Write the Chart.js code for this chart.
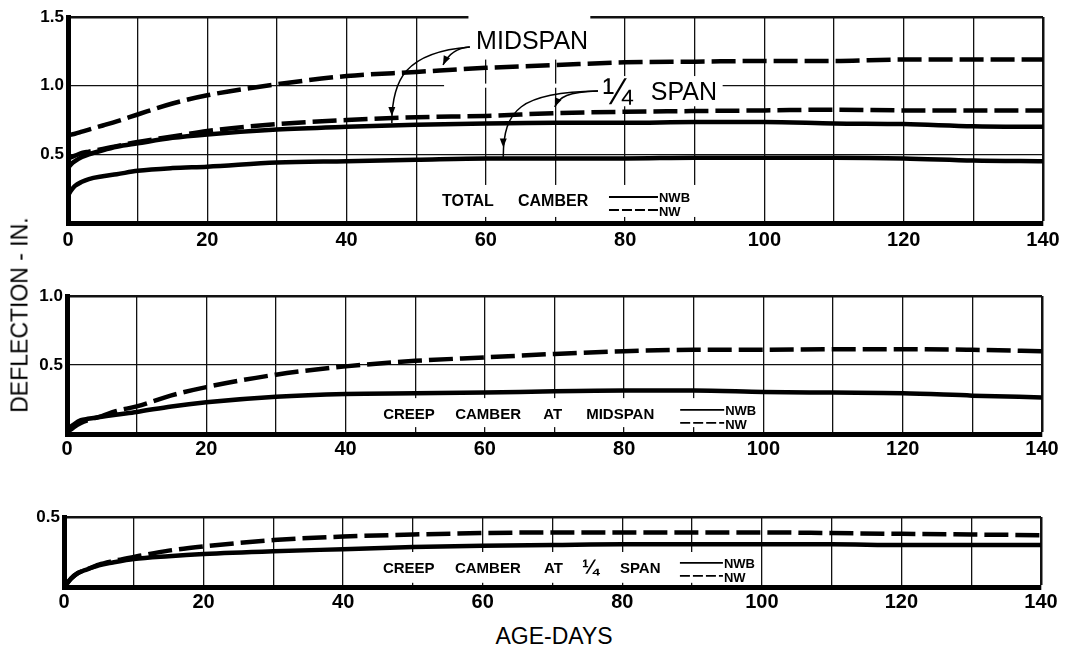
<!DOCTYPE html>
<html>
<head>
<meta charset="utf-8">
<script src="https://cdn.jsdelivr.net/npm/chart.js@4.4.0/dist/chart.umd.min.js"></script>
<style>
  html, body { margin: 0; padding: 0; background: #fff; }
  #wrap { position: relative; width: 1072px; height: 651px; overflow: hidden; background: #fff; }
  canvas { position: absolute; left: 0; }
  .ytitle { position: absolute; left: 20px; top: 315px; transform: translate(-50%, -50%) rotate(-90deg);
            font: 23px "Liberation Sans", Arial, sans-serif; white-space: nowrap; color: #000; }
  .xtitle { position: absolute; left: 554px; top: 636px; transform: translate(-50%, -50%);
            font: 23px "Liberation Sans", Arial, sans-serif; white-space: nowrap; color: #000; }
</style>
</head>
<body>
<div id="wrap">
  <canvas id="total" width="1072" height="262" style="top:0px"></canvas>
  <canvas id="creepMid" width="1072" height="200" style="top:270px"></canvas>
  <canvas id="creepQtr" width="1072" height="130" style="top:490px"></canvas>
  <div class="ytitle">DEFLECTION - IN.</div>
  <div class="xtitle">AGE-DAYS</div>
</div>
<script>
'use strict';

// age in days where the curves were read
var days = [0, 0.5, 1, 2, 3, 5, 7, 10, 15, 20, 30, 40, 50, 60, 70, 80, 90, 100, 110, 120, 130, 140];

// total camber
var totalMidNW  = [0.64, 0.645, 0.65, 0.665, 0.68, 0.71, 0.74, 0.79, 0.87, 0.93, 1.01, 1.07, 1.10, 1.13, 1.15, 1.17, 1.175, 1.18, 1.18, 1.19, 1.19, 1.19];
var totalMidNWB = [0.40, 0.43, 0.45, 0.48, 0.50, 0.53, 0.555, 0.58, 0.62, 0.645, 0.68, 0.70, 0.715, 0.725, 0.73, 0.73, 0.735, 0.735, 0.725, 0.72, 0.705, 0.70];
var totalQtrNW  = [0.47, 0.48, 0.49, 0.51, 0.52, 0.54, 0.56, 0.59, 0.63, 0.67, 0.72, 0.75, 0.77, 0.78, 0.80, 0.81, 0.815, 0.82, 0.825, 0.82, 0.82, 0.82];
var totalQtrNWB = [0.20, 0.24, 0.27, 0.30, 0.32, 0.34, 0.355, 0.38, 0.40, 0.41, 0.44, 0.45, 0.46, 0.47, 0.47, 0.47, 0.475, 0.475, 0.475, 0.47, 0.455, 0.45];

// creep camber at midspan
var creepMidNW  = [0.01, 0.03, 0.05, 0.08, 0.10, 0.13, 0.165, 0.20, 0.28, 0.34, 0.43, 0.49, 0.53, 0.555, 0.58, 0.60, 0.61, 0.61, 0.615, 0.615, 0.61, 0.60];
var creepMidNWB = [0.01, 0.05, 0.07, 0.10, 0.11, 0.125, 0.14, 0.16, 0.20, 0.23, 0.27, 0.29, 0.295, 0.30, 0.31, 0.315, 0.315, 0.305, 0.30, 0.295, 0.278, 0.265];

// creep camber at 1/4 span
var creepQtrNW  = [0.0, 0.03, 0.06, 0.10, 0.12, 0.16, 0.185, 0.215, 0.26, 0.29, 0.335, 0.36, 0.375, 0.385, 0.39, 0.39, 0.39, 0.39, 0.385, 0.38, 0.375, 0.37];
var creepQtrNWB = [0.0, 0.03, 0.06, 0.10, 0.12, 0.155, 0.175, 0.20, 0.22, 0.235, 0.255, 0.27, 0.285, 0.295, 0.30, 0.305, 0.305, 0.305, 0.305, 0.30, 0.30, 0.30];

var FONT = '"Liberation Sans", Arial, sans-serif';

function pts(arr) {
  return arr.map(function(v, i) { return { x: days[i], y: v }; });
}

function line(arr, dashed) {
  return {
    data: pts(arr),
    borderColor: '#000',
    borderWidth: 4.5,
    borderDash: dashed ? [24, 7] : [],
    borderCapStyle: 'butt',
    pointRadius: 0,
    fill: false,
    cubicInterpolationMode: 'monotone'
  };
}

function arrowHead(ctx, tx, ty, fx, fy) {
  var a = Math.atan2(ty - fy, tx - fx);
  var len = 9, w = 3.5;
  ctx.beginPath();
  ctx.moveTo(tx, ty);
  ctx.lineTo(tx - len * Math.cos(a) + w * Math.sin(a), ty - len * Math.sin(a) - w * Math.cos(a));
  ctx.lineTo(tx - len * Math.cos(a) - w * Math.sin(a), ty - len * Math.sin(a) + w * Math.cos(a));
  ctx.closePath();
  ctx.fill();
}

function decor(cfg) {
  return {
    id: 'decor',
    beforeDatasetsDraw: function(chart) {
      var ctx = chart.ctx, xs = chart.scales.x, ys = chart.scales.y;
      ctx.save();
      ctx.fillStyle = '#fff';
      (cfg.boxes || []).forEach(function(b) {
        var x0 = xs.getPixelForValue(b[0]), x1 = xs.getPixelForValue(b[1]);
        var y0 = ys.getPixelForValue(b[2]), y1 = ys.getPixelForValue(b[3]);
        ctx.fillRect(x0, y0, x1 - x0, y1 - y0);
      });
      ctx.restore();
    },
    afterDatasetsDraw: function(chart) {
      var ctx = chart.ctx, xs = chart.scales.x, ys = chart.scales.y;
      ctx.save();
      ctx.fillStyle = '#000';
      ctx.strokeStyle = '#000';

      // inline legend
      var lg = cfg.legend;
      var lx = xs.getPixelForValue(lg.day), ly = ys.getPixelForValue(lg.val);
      ctx.textBaseline = 'middle';
      ctx.textAlign = 'left';
      lg.words.forEach(function(w) {
        ctx.font = 'bold ' + (w[2] || lg.size) + 'px ' + FONT;
        ctx.fillText(w[0], lx + w[1], ly);
      });
      ctx.lineWidth = 1.8;
      ctx.beginPath();
      ctx.moveTo(lx + lg.line[0], ly + lg.dy[0]);
      ctx.lineTo(lx + lg.line[1], ly + lg.dy[0]);
      ctx.stroke();
      ctx.setLineDash([10, 3]);
      ctx.beginPath();
      ctx.moveTo(lx + lg.line[0], ly + lg.dy[1]);
      ctx.lineTo(lx + lg.line[1], ly + lg.dy[1]);
      ctx.stroke();
      ctx.setLineDash([]);
      ctx.font = 'bold 13px ' + FONT;
      ctx.fillText('NWB', lx + lg.line[1] + 1, ly + lg.dy[0] + 1);
      ctx.fillText('NW', lx + lg.line[1] + 1, ly + lg.dy[1] + 2);

      // curve labels and leaders
      (cfg.labels || []).forEach(function(t) {
        var tx = xs.getPixelForValue(t.day), ty = ys.getPixelForValue(t.val);
        t.parts.forEach(function(p) {
          ctx.font = p[2] + 'px ' + FONT;
          ctx.fillText(p[0], tx + p[1], ty + (p[3] || 0));
        });
      });
      ctx.lineWidth = 1.5;
      (cfg.leaders || []).forEach(function(l) {
        var P = function(q) { return [xs.getPixelForValue(q[0]), ys.getPixelForValue(q[1])]; };
        var p0 = P(l.p0), c1 = P(l.c1), c2 = P(l.c2), p1 = P(l.p1);
        ctx.beginPath();
        ctx.moveTo(p0[0], p0[1]);
        ctx.bezierCurveTo(c1[0], c1[1], c2[0], c2[1], p1[0], p1[1]);
        ctx.stroke();
        if (l.tip) {
          var t = P(l.tip);
          arrowHead(ctx, t[0], t[1], t[0], t[1] - 10);
        } else {
          arrowHead(ctx, p1[0], p1[1], c2[0], c2[1]);
        }
      });
      ctx.restore();
    }
  };
}

function makePanel(id, datasets, o) {
  var tickFont = { family: FONT, size: 20, weight: 'bold' };
  return new Chart(document.getElementById(id).getContext('2d'), {
    type: 'line',
    data: { datasets: datasets },
    options: {
      responsive: false,
      animation: false,
      events: [],
      layout: { autoPadding: false, padding: o.padding },
      plugins: { legend: { display: false }, tooltip: { enabled: false } },
      scales: {
        x: {
          type: 'linear', min: 0, max: 140,
          afterFit: function(s) { s.height = 32; },
          ticks: {
            stepSize: 10, autoSkip: false, maxRotation: 0, padding: o.xPad,
            color: '#000', font: tickFont,
            callback: function(v) { return v % 20 === 0 ? String(v) : ''; }
          },
          grid: {
            color: '#111', drawTicks: false,
            lineWidth: function(c) { return c.tick && c.tick.value === 140 ? 2.5 : 1.3; }
          },
          border: { color: '#000', width: 5 }
        },
        y: {
          type: 'linear', min: 0, max: o.yMax,
          afterFit: function(s) { s.width = o.yWidth; },
          ticks: {
            stepSize: 0.5, padding: 4, color: '#000',
            font: { family: FONT, size: 17, weight: 'bold' },
            callback: function(v) { return v === 0 ? '' : v.toFixed(1); }
          },
          grid: {
            color: '#111', drawTicks: false,
            lineWidth: function(c) { return c.tick && c.tick.value === o.yMax ? 2.5 : 1.3; }
          },
          border: { color: '#000', width: 5 }
        }
      }
    },
    plugins: [decor(o.decor)]
  });
}

makePanel('total', [
  line(totalMidNW, true), line(totalMidNWB, false),
  line(totalQtrNW, true), line(totalQtrNWB, false)
], {
  padding: { top: 17, right: 29, bottom: 7, left: 0 },
  yWidth: 68, yMax: 1.5, xPad: 5,
  decor: {
    boxes: [[52.8, 90.8, 0.277, 0.044], [57.5, 75, 1.56, 1.19], [77.5, 94, 1.07, 0.85], [54, 77.5, 1.015, 0.985]],
    legend: { day: 53.7, val: 0.153, size: 16, words: [['TOTAL', 0], ['CAMBER', 76]], line: [167, 216], dy: [-5, 8] },
    labels: [
      { day: 58.6, val: 1.318, parts: [['MIDSPAN', 0, 25]] },
      { day: 76.8, val: 0.947, parts: [['\u00BC', 0, 36, 1], ['SPAN', 48, 25]] }
    ],
    leaders: [
      { p0: [57.7, 1.282], c1: [55.6, 1.275], c2: [54.5, 1.22], p1: [53.85, 1.151] },
      { p0: [57.7, 1.282], c1: [48.4, 1.245], c2: [46.5, 1.041], p1: [46.5, 0.728], tip: [46.5, 0.78] },
      { p0: [76.1, 0.961], c1: [71.8, 0.954], c2: [70.5, 0.92], p1: [69.9, 0.845] },
      { p0: [76.1, 0.961], c1: [64.9, 0.954], c2: [62.5, 0.823], p1: [62.5, 0.48], tip: [62.5, 0.55] }
    ]
  }
});

makePanel('creepMid', [line(creepMidNW, true), line(creepMidNWB, false)], {
  padding: { top: 26, right: 30, bottom: 4, left: 0 },
  yWidth: 67, yMax: 1.0, xPad: 3,
  decor: {
    boxes: [[45, 94.4, 0.26, 0.05]],
    legend: { day: 45.4, val: 0.138, size: 15,
      words: [['CREEP', 0], ['CAMBER', 72], ['AT', 160], ['MIDSPAN', 203]], line: [297, 341], dy: [-5, 8] }
  }
});

makePanel('creepQtr', [line(creepQtrNW, true), line(creepQtrNWB, false)], {
  padding: { top: 27, right: 31, bottom: 1, left: 0 },
  yWidth: 64, yMax: 0.5, xPad: 3,
  decor: {
    boxes: [[45.1, 94.5, 0.25, 0.03]],
    legend: { day: 45.7, val: 0.129, size: 15,
      words: [['CREEP', 0], ['CAMBER', 72], ['AT', 161], ['\u00BC', 199, 20], ['SPAN', 237]], line: [297, 340], dy: [-6, 7] }
  }
});
</script>
</body>
</html>
